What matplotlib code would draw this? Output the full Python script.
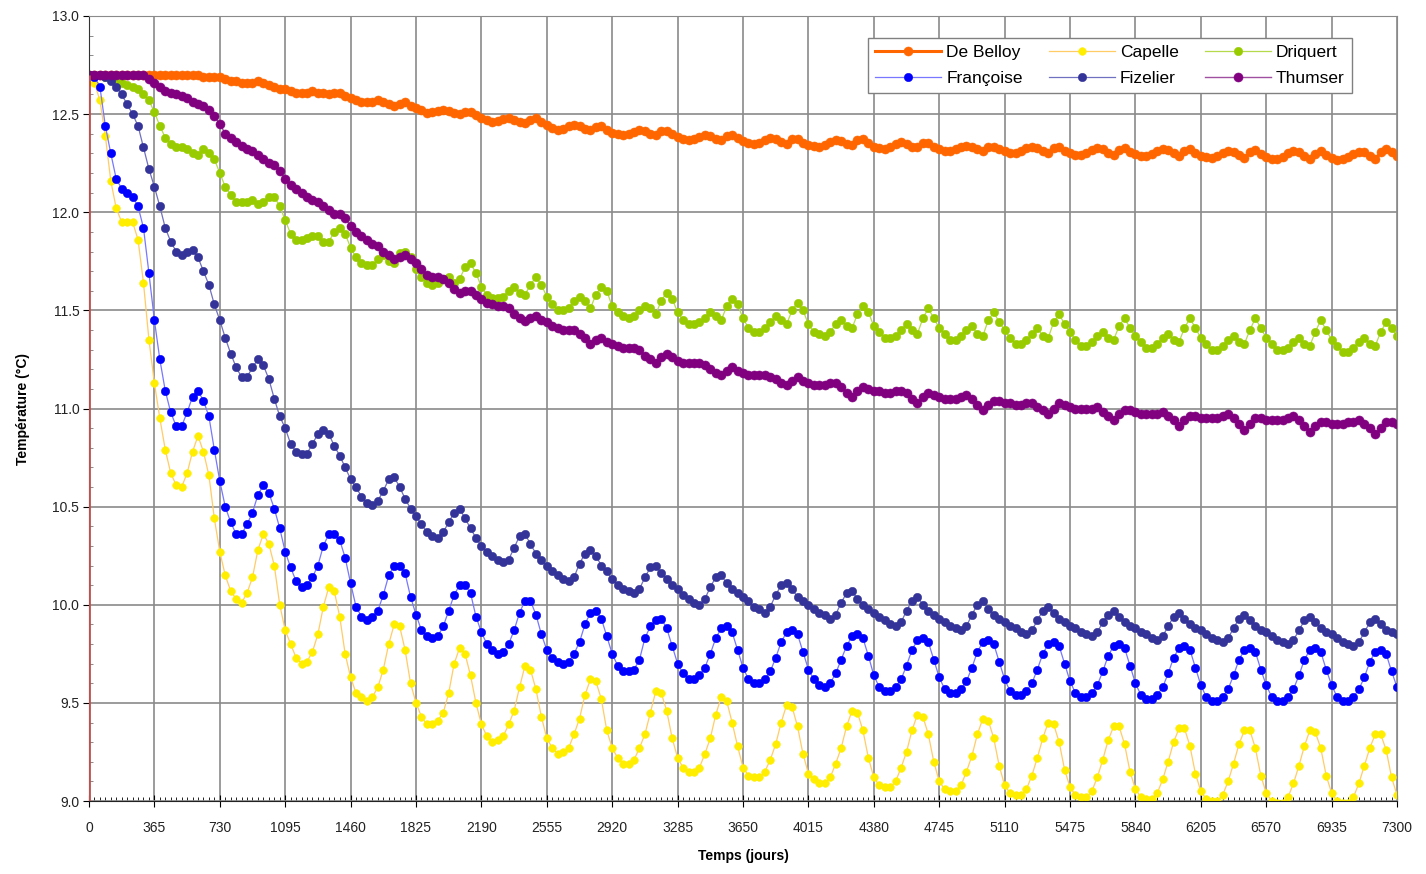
import numpy as np
import matplotlib.pyplot as plt
from matplotlib.ticker import MultipleLocator, FormatStrFormatter

plt.rcParams['font.family'] = ['Liberation Sans Narrow', 'Liberation Sans', 'DejaVu Sans']

# one reading per month over 20 years (0 -> 7300 days)
days = np.arange(241) * 365 / 12

# temperatures (degC), one row per year
de_belloy = [
    12.70, 12.70, 12.70, 12.70, 12.70, 12.70, 12.70, 12.70, 12.70, 12.70, 12.70, 12.70,
    12.70, 12.70, 12.70, 12.70, 12.70, 12.70, 12.70, 12.70, 12.70, 12.69, 12.69, 12.69,
    12.69, 12.68, 12.67, 12.67, 12.66, 12.66, 12.66, 12.67, 12.66, 12.65, 12.64, 12.63,
    12.63, 12.62, 12.61, 12.61, 12.61, 12.62, 12.61, 12.61, 12.60, 12.61, 12.61, 12.59,
    12.58, 12.57, 12.56, 12.56, 12.56, 12.57, 12.56, 12.55, 12.54, 12.55, 12.56, 12.54,
    12.53, 12.52, 12.505, 12.51, 12.515, 12.52, 12.515, 12.505, 12.50, 12.51, 12.51, 12.495,
    12.48, 12.47, 12.46, 12.465, 12.475, 12.48, 12.47, 12.46, 12.455, 12.47, 12.48, 12.46,
    12.445, 12.43, 12.42, 12.425, 12.44, 12.445, 12.44, 12.425, 12.42, 12.435, 12.44, 12.42,
    12.405, 12.40, 12.395, 12.40, 12.41, 12.42, 12.415, 12.40, 12.395, 12.415, 12.415, 12.40,
    12.385, 12.375, 12.37, 12.375, 12.385, 12.395, 12.39, 12.375, 12.37, 12.39, 12.395, 12.38,
    12.365, 12.355, 12.35, 12.355, 12.37, 12.38, 12.375, 12.36, 12.35, 12.375, 12.375, 12.355,
    12.345, 12.34, 12.335, 12.345, 12.36, 12.37, 12.365, 12.35, 12.345, 12.37, 12.375, 12.355,
    12.335, 12.325, 12.32, 12.33, 12.35, 12.36, 12.35, 12.335, 12.33, 12.355, 12.355, 12.335,
    12.32, 12.31, 12.31, 12.32, 12.335, 12.34, 12.335, 12.32, 12.31, 12.335, 12.335, 12.32,
    12.31, 12.30, 12.30, 12.31, 12.325, 12.33, 12.325, 12.31, 12.30, 12.325, 12.33, 12.31,
    12.30, 12.29, 12.29, 12.30, 12.315, 12.325, 12.32, 12.30, 12.29, 12.315, 12.325, 12.305,
    12.295, 12.285, 12.285, 12.295, 12.31, 12.32, 12.315, 12.30, 12.285, 12.31, 12.32, 12.30,
    12.285, 12.28, 12.275, 12.285, 12.30, 12.31, 12.305, 12.29, 12.275, 12.305, 12.315, 12.295,
    12.28, 12.27, 12.27, 12.28, 12.30, 12.31, 12.305, 12.285, 12.27, 12.295, 12.31, 12.29,
    12.275, 12.267, 12.27, 12.28, 12.295, 12.305, 12.305, 12.285, 12.27, 12.305, 12.32, 12.305,
    12.285]

capelle = [
    12.70, 12.66, 12.57, 12.39, 12.16, 12.02, 11.95, 11.95, 11.95, 11.86, 11.64, 11.35,
    11.13, 10.95, 10.79, 10.67, 10.61, 10.60, 10.67, 10.78, 10.86, 10.78, 10.66, 10.44,
    10.27, 10.15, 10.07, 10.03, 10.01, 10.06, 10.14, 10.28, 10.36, 10.31, 10.20, 10.00,
    9.87, 9.80, 9.73, 9.70, 9.71, 9.76, 9.85, 9.99, 10.09, 10.07, 9.94, 9.75,
    9.63, 9.55, 9.53, 9.51, 9.53, 9.58, 9.67, 9.80, 9.90, 9.89, 9.77, 9.60,
    9.50, 9.43, 9.39, 9.39, 9.41, 9.45, 9.55, 9.70, 9.78, 9.75, 9.64, 9.50,
    9.39, 9.33, 9.30, 9.31, 9.33, 9.39, 9.46, 9.58, 9.69, 9.67, 9.57, 9.43,
    9.32, 9.27, 9.24, 9.25, 9.27, 9.34, 9.42, 9.54, 9.62, 9.61, 9.52, 9.36,
    9.27, 9.22, 9.19, 9.19, 9.21, 9.27, 9.34, 9.45, 9.56, 9.55, 9.46, 9.32,
    9.22, 9.17, 9.15, 9.15, 9.17, 9.24, 9.32, 9.44, 9.53, 9.51, 9.40, 9.28,
    9.17, 9.13, 9.12, 9.12, 9.15, 9.21, 9.29, 9.40, 9.49, 9.48, 9.38, 9.24,
    9.14, 9.11, 9.09, 9.09, 9.12, 9.19, 9.27, 9.38, 9.46, 9.45, 9.36, 9.22,
    9.12, 9.08, 9.07, 9.07, 9.10, 9.17, 9.25, 9.36, 9.44, 9.43, 9.34, 9.20,
    9.10, 9.06, 9.05, 9.05, 9.08, 9.15, 9.23, 9.34, 9.42, 9.41, 9.32, 9.18,
    9.08, 9.04, 9.03, 9.03, 9.06, 9.13, 9.22, 9.32, 9.40, 9.39, 9.30, 9.16,
    9.07, 9.03, 9.02, 9.02, 9.05, 9.12, 9.21, 9.31, 9.38, 9.38, 9.29, 9.15,
    9.06, 9.02, 9.01, 9.01, 9.04, 9.11, 9.20, 9.30, 9.37, 9.37, 9.28, 9.14,
    9.05, 9.01, 9.00, 9.00, 9.03, 9.10, 9.19, 9.29, 9.36, 9.36, 9.27, 9.13,
    9.04, 9.00, 8.99, 8.99, 9.02, 9.09, 9.18, 9.28, 9.36, 9.35, 9.27, 9.13,
    9.04, 9.00, 8.99, 8.99, 9.02, 9.09, 9.18, 9.27, 9.34, 9.34, 9.26, 9.12,
    9.03]

driquert = [
    12.70, 12.70, 12.70, 12.69, 12.68, 12.67, 12.66, 12.65, 12.64, 12.63, 12.60, 12.57,
    12.51, 12.44, 12.38, 12.35, 12.33, 12.33, 12.32, 12.30, 12.29, 12.32, 12.30, 12.27,
    12.20, 12.13, 12.09, 12.05, 12.05, 12.05, 12.06, 12.04, 12.05, 12.08, 12.08, 12.03,
    11.96, 11.89, 11.86, 11.86, 11.87, 11.88, 11.88, 11.85, 11.85, 11.90, 11.92, 11.89,
    11.82, 11.77, 11.74, 11.73, 11.73, 11.76, 11.78, 11.75, 11.74, 11.79, 11.80, 11.77,
    11.71, 11.67, 11.64, 11.63, 11.64, 11.66, 11.67, 11.64, 11.66, 11.72, 11.74, 11.69,
    11.62, 11.58, 11.565, 11.565, 11.57, 11.60, 11.62, 11.59, 11.58, 11.63, 11.67, 11.63,
    11.57, 11.53, 11.50, 11.50, 11.51, 11.55, 11.57, 11.55, 11.51, 11.58, 11.62, 11.60,
    11.52, 11.49, 11.47, 11.46, 11.47, 11.50, 11.52, 11.51, 11.48, 11.55, 11.59, 11.56,
    11.49, 11.45, 11.43, 11.43, 11.44, 11.46, 11.49, 11.47, 11.45, 11.52, 11.56, 11.53,
    11.46, 11.41, 11.39, 11.39, 11.41, 11.44, 11.47, 11.45, 11.43, 11.50, 11.54, 11.50,
    11.43, 11.39, 11.38, 11.37, 11.39, 11.43, 11.45, 11.42, 11.41, 11.48, 11.52, 11.49,
    11.42, 11.39, 11.36, 11.36, 11.37, 11.40, 11.43, 11.40, 11.38, 11.46, 11.51, 11.46,
    11.41, 11.38, 11.35, 11.35, 11.37, 11.40, 11.42, 11.38, 11.37, 11.45, 11.49, 11.44,
    11.40, 11.36, 11.33, 11.33, 11.35, 11.38, 11.41, 11.37, 11.36, 11.44, 11.48, 11.43,
    11.39, 11.35, 11.32, 11.32, 11.34, 11.37, 11.39, 11.36, 11.35, 11.42, 11.46, 11.41,
    11.37, 11.34, 11.31, 11.31, 11.33, 11.36, 11.38, 11.35, 11.34, 11.41, 11.46, 11.41,
    11.36, 11.33, 11.30, 11.30, 11.32, 11.35, 11.37, 11.34, 11.33, 11.40, 11.46, 11.41,
    11.36, 11.33, 11.30, 11.30, 11.31, 11.34, 11.36, 11.33, 11.32, 11.39, 11.45, 11.40,
    11.35, 11.32, 11.29, 11.29, 11.31, 11.34, 11.36, 11.33, 11.32, 11.39, 11.44, 11.41,
    11.37]

francoise = [
    12.70, 12.69, 12.64, 12.44, 12.30, 12.17, 12.12, 12.10, 12.08, 12.03, 11.92, 11.69,
    11.45, 11.25, 11.09, 10.98, 10.91, 10.91, 10.98, 11.06, 11.09, 11.04, 10.96, 10.79,
    10.63, 10.50, 10.42, 10.36, 10.36, 10.41, 10.47, 10.56, 10.61, 10.57, 10.49, 10.39,
    10.27, 10.19, 10.12, 10.09, 10.10, 10.14, 10.20, 10.30, 10.36, 10.36, 10.33, 10.24,
    10.11, 9.99, 9.94, 9.92, 9.94, 9.97, 10.05, 10.15, 10.20, 10.20, 10.16, 10.04,
    9.95, 9.87, 9.84, 9.83, 9.84, 9.89, 9.97, 10.05, 10.10, 10.10, 10.06, 9.94,
    9.86, 9.80, 9.77, 9.75, 9.76, 9.80, 9.87, 9.96, 10.02, 10.02, 9.95, 9.85,
    9.77, 9.73, 9.71, 9.70, 9.71, 9.75, 9.81, 9.90, 9.96, 9.97, 9.93, 9.84,
    9.75, 9.69, 9.66, 9.66, 9.67, 9.72, 9.83, 9.89, 9.92, 9.93, 9.88, 9.79,
    9.70, 9.65, 9.62, 9.62, 9.64, 9.68, 9.75, 9.83, 9.88, 9.89, 9.86, 9.77,
    9.68, 9.62, 9.60, 9.60, 9.62, 9.66, 9.73, 9.81, 9.86, 9.87, 9.85, 9.76,
    9.67, 9.62, 9.59, 9.58, 9.60, 9.65, 9.72, 9.79, 9.84, 9.85, 9.83, 9.74,
    9.64, 9.58, 9.56, 9.56, 9.58, 9.62, 9.69, 9.77, 9.82, 9.83, 9.81, 9.72,
    9.63, 9.57, 9.55, 9.55, 9.57, 9.61, 9.68, 9.76, 9.81, 9.82, 9.80, 9.71,
    9.62, 9.56, 9.54, 9.54, 9.56, 9.60, 9.67, 9.75, 9.80, 9.81, 9.79, 9.70,
    9.61, 9.55, 9.53, 9.53, 9.55, 9.59, 9.66, 9.74, 9.79, 9.80, 9.78, 9.69,
    9.60, 9.54, 9.52, 9.52, 9.54, 9.58, 9.65, 9.73, 9.78, 9.79, 9.77, 9.68,
    9.59, 9.53, 9.51, 9.51, 9.53, 9.57, 9.64, 9.72, 9.77, 9.78, 9.76, 9.67,
    9.59, 9.53, 9.51, 9.51, 9.53, 9.57, 9.64, 9.72, 9.77, 9.78, 9.76, 9.67,
    9.59, 9.53, 9.51, 9.51, 9.53, 9.57, 9.63, 9.71, 9.76, 9.77, 9.75, 9.66,
    9.58]

fizelier = [
    12.70, 12.70, 12.70, 12.69, 12.67, 12.64, 12.60, 12.55, 12.50, 12.44, 12.33, 12.22,
    12.13, 12.03, 11.92, 11.85, 11.80, 11.78, 11.80, 11.81, 11.77, 11.70, 11.63, 11.53,
    11.45, 11.36, 11.28, 11.21, 11.16, 11.16, 11.21, 11.25, 11.22, 11.15, 11.05, 10.96,
    10.90, 10.82, 10.78, 10.77, 10.77, 10.82, 10.87, 10.89, 10.87, 10.81, 10.76, 10.70,
    10.64, 10.60, 10.55, 10.52, 10.51, 10.53, 10.58, 10.64, 10.65, 10.60, 10.54, 10.49,
    10.45, 10.41, 10.37, 10.35, 10.34, 10.37, 10.42, 10.47, 10.49, 10.44, 10.39, 10.34,
    10.30, 10.27, 10.25, 10.23, 10.22, 10.23, 10.29, 10.35, 10.36, 10.31, 10.26, 10.23,
    10.20, 10.17, 10.15, 10.13, 10.12, 10.14, 10.21, 10.26, 10.28, 10.25, 10.20, 10.17,
    10.13, 10.10, 10.08, 10.07, 10.06, 10.08, 10.14, 10.19, 10.20, 10.16, 10.13, 10.10,
    10.08, 10.05, 10.03, 10.01, 10.00, 10.03, 10.09, 10.14, 10.15, 10.11, 10.08, 10.06,
    10.04, 10.02, 9.99, 9.98, 9.96, 9.99, 10.05, 10.10, 10.11, 10.08, 10.04, 10.02,
    10.00, 9.98, 9.96, 9.95, 9.93, 9.95, 10.01, 10.06, 10.07, 10.03, 10.00, 9.98,
    9.96, 9.94, 9.92, 9.90, 9.89, 9.91, 9.97, 10.02, 10.04, 10.00, 9.97, 9.95,
    9.93, 9.91, 9.89, 9.88, 9.87, 9.89, 9.95, 10.00, 10.02, 9.98, 9.95, 9.93,
    9.91, 9.89, 9.88, 9.86, 9.85, 9.87, 9.92, 9.97, 9.99, 9.96, 9.93, 9.91,
    9.89, 9.88, 9.86, 9.85, 9.84, 9.86, 9.91, 9.95, 9.97, 9.94, 9.91, 9.89,
    9.88, 9.86, 9.85, 9.83, 9.82, 9.84, 9.89, 9.94, 9.96, 9.93, 9.90, 9.88,
    9.87, 9.85, 9.83, 9.82, 9.81, 9.83, 9.88, 9.93, 9.95, 9.92, 9.89, 9.87,
    9.86, 9.84, 9.82, 9.81, 9.80, 9.82, 9.87, 9.92, 9.94, 9.91, 9.88, 9.86,
    9.85, 9.83, 9.81, 9.80, 9.79, 9.81, 9.86, 9.91, 9.93, 9.90, 9.87, 9.86,
    9.85]

thumser = [
    12.70, 12.70, 12.70, 12.70, 12.70, 12.70, 12.70, 12.70, 12.70, 12.70, 12.70, 12.68,
    12.66, 12.64, 12.62, 12.61, 12.60, 12.59, 12.58, 12.56, 12.55, 12.54, 12.52, 12.49,
    12.45, 12.40, 12.38, 12.36, 12.34, 12.32, 12.31, 12.29, 12.27, 12.25, 12.24, 12.21,
    12.17, 12.14, 12.12, 12.10, 12.08, 12.06, 12.05, 12.03, 12.01, 11.99, 11.99, 11.97,
    11.93, 11.90, 11.88, 11.86, 11.84, 11.83, 11.80, 11.78, 11.76, 11.77, 11.78, 11.76,
    11.74, 11.71, 11.68, 11.67, 11.67, 11.66, 11.64, 11.61, 11.59, 11.60, 11.60, 11.58,
    11.56, 11.54, 11.53, 11.52, 11.52, 11.51, 11.48, 11.46, 11.445, 11.46, 11.47, 11.45,
    11.44, 11.42, 11.41, 11.40, 11.40, 11.40, 11.38, 11.36, 11.33, 11.35, 11.36, 11.34,
    11.33, 11.32, 11.31, 11.31, 11.31, 11.30, 11.27, 11.25, 11.23, 11.26, 11.28, 11.26,
    11.24, 11.23, 11.23, 11.23, 11.23, 11.22, 11.20, 11.18, 11.17, 11.19, 11.21, 11.19,
    11.18, 11.17, 11.17, 11.17, 11.17, 11.16, 11.15, 11.13, 11.12, 11.14, 11.16, 11.14,
    11.13, 11.12, 11.12, 11.12, 11.13, 11.13, 11.11, 11.08, 11.06, 11.09, 11.11, 11.10,
    11.09, 11.09, 11.08, 11.08, 11.09, 11.09, 11.08, 11.05, 11.03, 11.06, 11.08, 11.07,
    11.06, 11.05, 11.05, 11.05, 11.06, 11.07, 11.05, 11.02, 10.99, 11.02, 11.04, 11.04,
    11.03, 11.03, 11.02, 11.02, 11.03, 11.03, 11.01, 10.99, 10.97, 11.00, 11.03, 11.02,
    11.01, 11.00, 11.00, 11.00, 11.00, 11.01, 10.98, 10.96, 10.94, 10.97, 10.99, 10.99,
    10.98, 10.97, 10.97, 10.97, 10.97, 10.98, 10.96, 10.94, 10.91, 10.94, 10.96, 10.96,
    10.95, 10.95, 10.95, 10.95, 10.96, 10.97, 10.95, 10.92, 10.89, 10.92, 10.95, 10.95,
    10.94, 10.94, 10.94, 10.94, 10.95, 10.96, 10.94, 10.91, 10.88, 10.91, 10.93, 10.93,
    10.92, 10.92, 10.92, 10.93, 10.93, 10.94, 10.92, 10.90, 10.87, 10.90, 10.93, 10.93,
    10.92]

fig = plt.figure(figsize=(14.26, 8.74), dpi=100)
ax = fig.add_axes([0.0624, 0.0835, 0.9173, 0.8982])

# series in the workbook order (last one drawn on top)
series = [
    ('De Belloy', de_belloy, '#ff6600', '#ff6600', 2.2, 6.5),
    ('Capelle', capelle, '#ffee00', '#ffcc66', 0.9, 5.5),
    ('Driquert', driquert, '#99cc00', '#b5db4c', 0.9, 6),
    ('Françoise', francoise, '#0000ff', '#7777ff', 0.9, 6),
    ('Fizelier', fizelier, '#333399', '#7070c0', 0.9, 6),
    ('Thumser', thumser, '#800080', '#a050a0', 1.0, 6.5),
]

handles = {}
for name, vals, mcol, lcol, lw, ms in series:
    h, = ax.plot(days, vals, color=lcol, lw=lw, marker='o', ms=ms,
                 mfc=mcol, mec=mcol, mew=0.4, label=name)
    handles[name] = h

# red start line on the left edge
ax.vlines(days[0], 9.0, de_belloy[0], color='#c0504d', lw=2, zorder=5)

ax.set_xlim(0, 7300)
ax.set_ylim(9.0, 13.0)
ax.xaxis.set_major_locator(MultipleLocator(365))
ax.xaxis.set_minor_locator(MultipleLocator(365 / 12))
ax.yaxis.set_major_locator(MultipleLocator(0.5))
ax.yaxis.set_minor_locator(MultipleLocator(0.1))
ax.yaxis.set_major_formatter(FormatStrFormatter('%.1f'))

ax.grid(which='major', color='#8a8a8a', lw=1.2)
ax.set_axisbelow(True)
ax.tick_params(axis='x', which='major', direction='inout', length=9, pad=10,
               labelsize=10, labelcolor='#222222')
ax.tick_params(axis='x', which='minor', direction='in', length=3)
ax.tick_params(axis='y', which='major', direction='out', length=4, pad=3,
               labelsize=10, labelcolor='#222222')
ax.tick_params(axis='y', which='minor', direction='in', length=3, color='#777777')

for s in ['top', 'right']:
    ax.spines[s].set_color('#8a8a8a')
ax.spines['left'].set_color('#333333')
ax.spines['bottom'].set_color('#222222')

ax.set_xlabel('Temps (jours)', fontsize=10, fontweight='bold', labelpad=10)
ax.set_ylabel('Température (°C)', fontsize=10, fontweight='bold', labelpad=16)

order = ['De Belloy', 'Françoise', 'Capelle', 'Fizelier', 'Driquert', 'Thumser']
leg = ax.legend([handles[n] for n in order], order, ncol=3, loc='upper left',
                bbox_to_anchor=(0.5956, 0.972), borderaxespad=0, fontsize=12.5,
                frameon=True, fancybox=False, edgecolor='#808080', framealpha=1,
                handlelength=3.8, handletextpad=0.3, columnspacing=1.5,
                labelspacing=0.6, borderpad=0.4)
leg.get_frame().set_linewidth(1.0)

fig.savefig('out.png', dpi=100)
